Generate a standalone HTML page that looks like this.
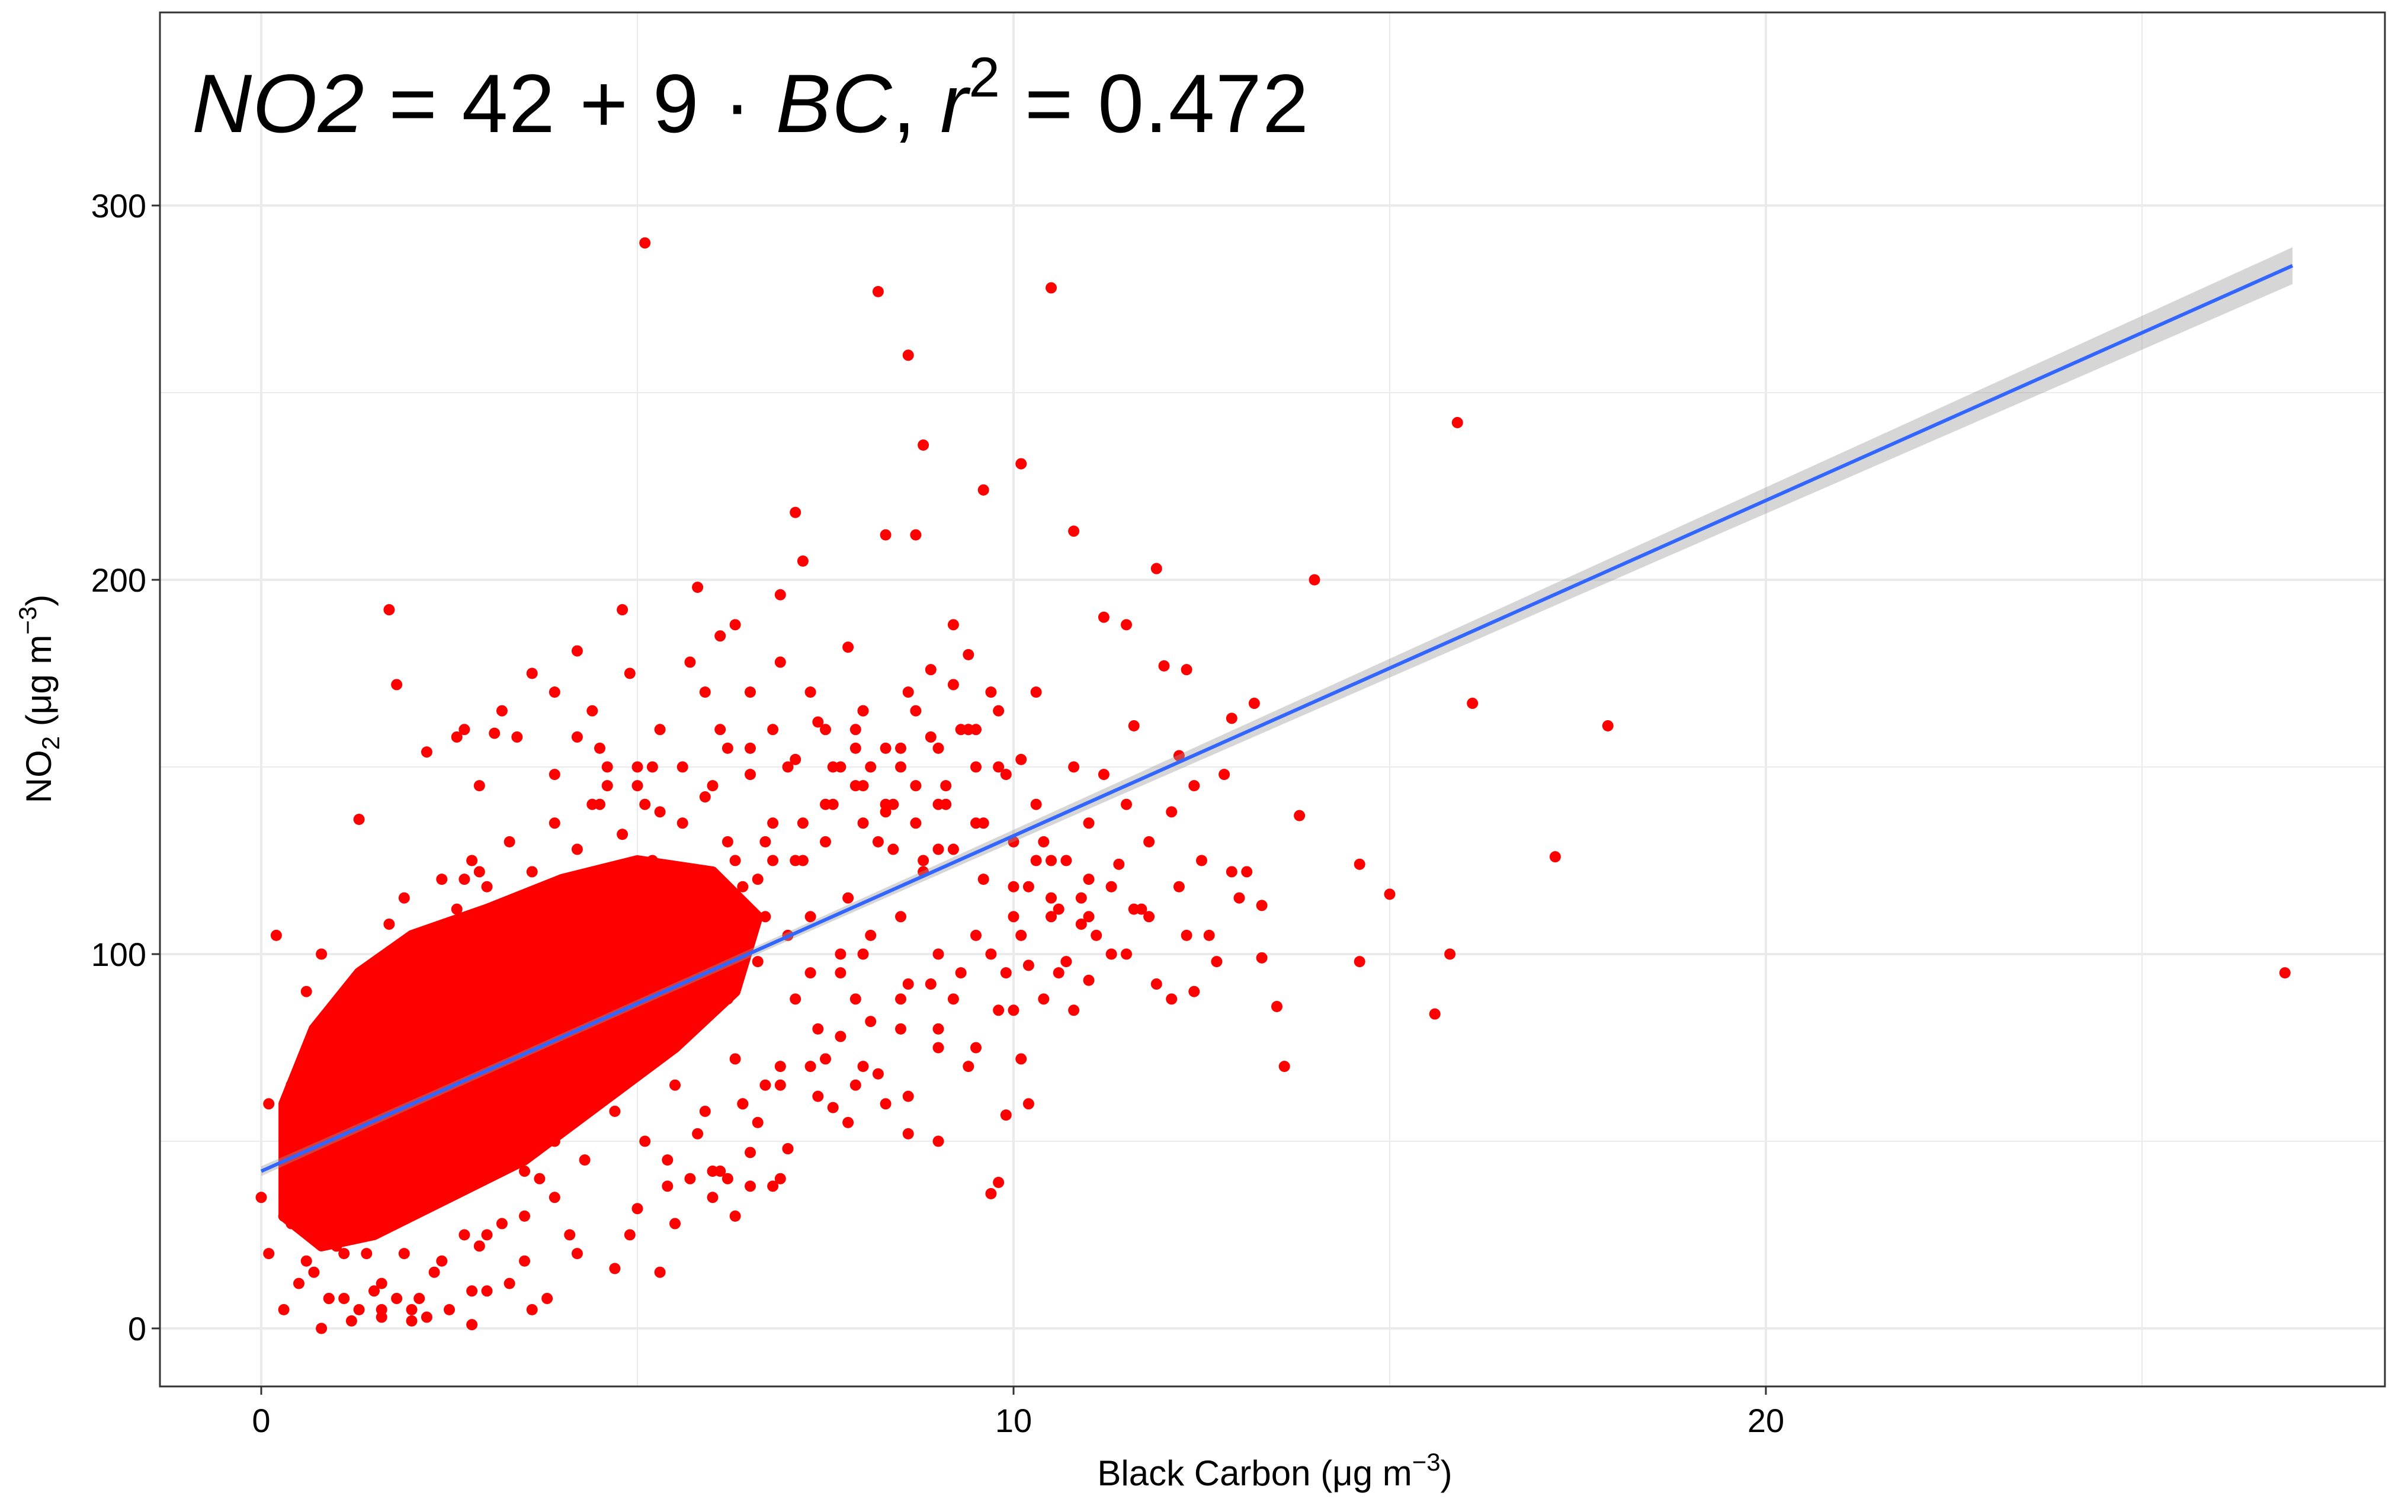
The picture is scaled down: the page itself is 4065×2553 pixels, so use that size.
<!DOCTYPE html>
<html><head><meta charset="utf-8"><style>
html,body{margin:0;padding:0;background:#fff;}
svg{display:block;font-family:"Liberation Sans",Arial,sans-serif;}
</style></head><body>
<svg id="chart" width="4065" height="2553" viewBox="0 0 4065 2553" xmlns="http://www.w3.org/2000/svg">
<rect width="4065" height="2553" fill="#fff"/>
<g id="grid"></g>
<g id="core"></g>
<g id="pts"></g>
<g id="fit"></g>
<rect x="270" y="21" width="3756" height="2320" fill="none" stroke="#333" stroke-width="3"/>
<g id="axes"></g>
<text x="324" y="223" font-size="140" fill="#000" textLength="1885" lengthAdjust="spacing"><tspan font-style="italic">NO</tspan><tspan font-style="italic">2</tspan><tspan> = 42 + 9 · </tspan><tspan font-style="italic">BC</tspan><tspan>,  </tspan><tspan font-style="italic">r</tspan><tspan dy="-60" font-size="95">2</tspan><tspan dy="60"> = 0.472</tspan></text>
<text x="2152" y="2508" font-size="60" text-anchor="middle">Black Carbon (μg m<tspan dy="-25" font-size="42">−3</tspan><tspan dy="25">)</tspan></text>
<text transform="translate(86,1180) rotate(-90)" font-size="60" text-anchor="middle">NO<tspan dy="14" font-size="42">2</tspan><tspan dy="-14"> (μg m</tspan><tspan dy="-25" font-size="42">−3</tspan><tspan dy="25">)</tspan></text>
</svg>
<script>
const xTicks=[0,10,20];
const xMinor=[5,15,25];
const yTicks=[0,100,200,300];
const yMinor=[50,150,250];
const intercept=42;
const slope=8.96;
const fitRange=[0,27.0];
const coreX=[0.3,0.3,0.7,1.3,2,3,4,5,6,6.6,6.3,5.5,4.5,3.5,2.5,1.5,0.8];
const coreY=[30,60,80,95,105,112,120,125,122,110,90,75,60,45,35,25,22];
const ptX=[5.1,8.2,10.5,8.6,8.8,15.9,10.1,9.6,7.1,1.7,1.8,4.8,14,11.9,10.8,16.1,17.9,17.2,26.9,15.8,15.6,14.6,15,14.6,13.6,13.5,13.3,13.8,9.7,9.8,9.9,9.0,8.6,7.6,5.5,6.8,4.7,3.6,1.3,2.2,2.6,3.1,3.4,5.8,4.2,10.3,11.2,11.5,12.3,12.9,13.2,12.0,11.6,12.2,12.8,12.5,12.6,12.9,13.1,13.3,12.4,12.1,11.8,11.0,10.8,11.3,10.2,10.4,8.9,9.2,9.4,8.7,8.3,7.8,7.2,6.9,6.3,5.9,5.3,4.6,0.1,0.0,0.1,0.3,0.8,1.2,1.6,2.0,2.5,2.8,3.3,3.8,4.2,2.6,3.0,5.0,6.0,6.5,7.0,5.4,7.5,8.0,8.5,9,9.5,10,10.5,11,11.5,8,8.5,9,9.5,10,10.5,11,9,9.5,10,8,8.5,7.5,8,7,6.5,6,6.5,9.3,9.8,10.3,10.8,11.2,9.6,8.8,8.2,7.8,7.2,6.8,6.2,8.6,9.2,9.9,7.9,8.3,7.4,6.9,6.4,10.1,10.6,10.9,11.4,11.8,12.1,12.4,11.7,12.2,0.5,0.7,1,1.5,1.2,0.4,2,2.3,0.9,1.8,4.5,5.2,6.1,3.9,4.4,5.6,6.6,7.3,7.7,8.1,9.1,9.4,10.2,3.5,2.8,3.2,1.4,1.1,0.6,2.4,4.1,5.7,6.3,7.9,8.7,9.7,2.9,3.6,4.9,5.3,1.6,2.1,0.3,0.2,7.6,8.4,9.0,6.7,5.1,4.3,3.7,2.7,1.9,1.3,
0.6,0.9,1.1,1.3,1.6,1.9,2.1,2.4,2.7,3.0,3.2,3.5,3.9,1.0,1.4,1.7,2.2,0.7,0.5,2.9,
0.4,0.6,0.9,1.1,1.3,1.5,0.8,1.7,1.9,2.1,2.4,2.6,2.8,3.0,3.3,3.6,3.9,4.2,4.5,4.8,5.0,5.3,5.6,5.9,6.2,6.5,6.8,7.1,7.4,7.7,8.0,8.3,8.6,8.9,9.2,9.5,9.8,10.1,
4.2,4.6,5.0,5.4,5.8,6.2,6.6,7.0,7.4,7.8,8.2,8.6,9.0,9.4,9.8,4.4,4.9,5.5,6.0,6.4,6.9,7.3,7.7,8.1,8.5,8.9,9.3,9.7,10.1,10.5,10.9,11.3,11.6,10.7,10.4,10.0,9.6,9.2,8.8,8.4,8.0,7.6,7.2,6.8,6.4,6.0,5.6,5.2,4.8,6.3,6.7,7.1,7.5,7.9,8.3,8.7,9.1,9.5,9.9,10.3,10.7,11.1,11.5,11.9,12.3,12.7,13.0,9.0,8.7,8.3,7.9,7.5,7.1,6.7,6.3,5.9,5.5,5.1,4.7,4.3,3.9,3.5,3.1,2.7,2.3,1.9,1.5,6.1,6.5,6.9,7.3,7.7,8.1,6.6,7.0,5.7,6.2,5.4,5.1,4.8,4.1,3.7,3.3,2.9,10.2,10.6,11.0,9.4,8.5,7.9,7.3,6.9,6.1,5.7,4.9,4.4,3.9,3.2,2.7];
const ptY=[290,277,278,260,236,242,231,224,218,192,172,192,200,203,213,167,161,126,95,100,84,98,116,124,70,86,99,137,36,39,57,50,52,59,28,38,16,5,136,154,158,159,158,198,181,170,190,188,176,163,167,177,161,153,148,125,105,122,122,113,90,88,110,93,85,100,97,88,176,188,180,212,212,182,205,196,188,170,160,150,60,35,20,5,0,2,3,2,5,1,12,8,20,40,25,32,42,47,48,38,130,145,150,140,135,130,125,135,140,100,110,100,105,110,115,120,80,75,85,70,80,160,165,150,155,145,170,160,150,140,150,148,120,125,130,115,125,135,130,92,88,95,88,60,80,70,60,72,95,108,124,130,138,145,112,118,40,55,30,10,70,65,5,15,8,8,155,150,160,148,140,135,120,110,95,150,145,160,60,30,10,45,20,8,90,60,25,40,30,155,165,170,145,175,25,15,5,55,30,105,150,140,155,110,140,100,40,120,60,35,50,28,20,
5,12,20,8,18,25,10,28,18,35,22,40,30,3,15,12,22,28,18,8,
80,72,95,100,108,115,88,120,112,125,118,130,122,135,128,140,132,145,138,150,142,155,148,160,152,162,150,165,155,170,158,172,160,165,152,158,145,150,
45,52,40,55,48,62,55,68,62,75,70,85,78,90,82,35,60,65,70,78,82,88,92,95,100,105,110,115,118,112,125,130,118,135,128,122,128,135,140,135,125,118,112,118,125,118,125,130,125,140,145,138,145,140,150,148,125,98,105,100,92,105,98,115,128,135,140,65,72,88,65,72,58,65,50,58,45,50,42,55,50,65,55,50,42,38,40,95,100,105,98,105,110,88,92,80,85,100,108,112,122,118,112,110,160,155,160,170,178,185,178,175,165,170,165,160,158,150,145];
const X0=441,XS=127.0,Y0=2243,YS=6.32,L=270,R=4026,T=21,B=2341;
const sx=v=>X0+v*XS, sy=v=>Y0-v*YS;
const NS="http://www.w3.org/2000/svg";
function mk(tag,parent,attrs){const e=document.createElementNS(NS,tag);for(const k in attrs)e.setAttribute(k,attrs[k]);document.getElementById(parent).appendChild(e);return e;}
xMinor.forEach(v=>{const e=mk('line','grid',{x1:sx(v),x2:sx(v),y1:T,y2:B,stroke:'#ebebeb','stroke-width':2});

});
yMinor.forEach(v=>{const e=mk('line','grid',{x1:L,x2:R,y1:sy(v),y2:sy(v),stroke:'#ebebeb','stroke-width':2});

});
xTicks.forEach(v=>{const e=mk('line','grid',{x1:sx(v),x2:sx(v),y1:T,y2:B,stroke:'#ebebeb','stroke-width':4});


const t=mk('line','axes',{x1:sx(v),x2:sx(v),y1:B,y2:B+14,stroke:'#333','stroke-width':3});


const l=mk('text','axes',{x:sx(v),y:2418,'font-size':56,'text-anchor':'middle',fill:'#000'});l.textContent=v;

});
yTicks.forEach(v=>{const e=mk('line','grid',{x1:L,x2:R,y1:sy(v),y2:sy(v),stroke:'#ebebeb','stroke-width':4});


const t=mk('line','axes',{x1:L-14,x2:L,y1:sy(v),y2:sy(v),stroke:'#333','stroke-width':3});


const l=mk('text','axes',{x:247,y:sy(v)+20,'font-size':56,'text-anchor':'end',fill:'#000'});l.textContent=v;

});
const core=mk('polygon','core',{points:coreX.map((x,i)=>sx(x)+','+sy(coreY[i])).join(' '),fill:'#ff0000',stroke:'#ff0000','stroke-width':18,'stroke-linejoin':'round'});


ptX.forEach((x,i)=>{const c=mk('circle','pts',{cx:sx(x),cy:sy(ptY[i]),r:9.5,fill:'#ff0000'});

});
const hw=x=>Math.sqrt(1+Math.pow(0.21*(x-4),2));
const up=[],dn=[];
for(let k=0;k<=40;k++){const x=fitRange[0]+(fitRange[1]-fitRange[0])*k/40;const y=intercept+slope*x;up.push(sx(x)+','+sy(y+hw(x)));dn.unshift(sx(x)+','+sy(y-hw(x)));}
const band=mk('polygon','fit',{points:up.concat(dn).join(' '),fill:'#999',opacity:0.4});


const line=mk('line','fit',{x1:sx(fitRange[0]),y1:sy(intercept+slope*fitRange[0]),x2:sx(fitRange[1]),y2:sy(intercept+slope*fitRange[1]),stroke:'#3366ff','stroke-width':6});


</script>
</body></html>
